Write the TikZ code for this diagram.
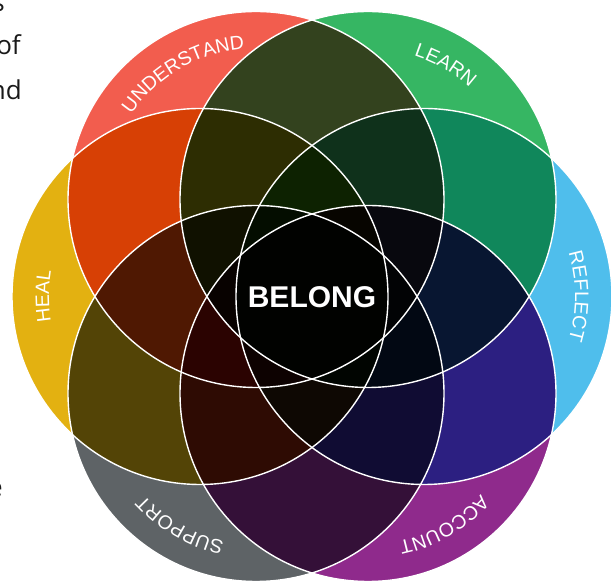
\documentclass[tikz,border=0pt]{standalone}
\usepackage{fontspec}
\setmainfont{Liberation Sans}
\newfontfamily\fragfont{Open Sans}
\usepackage{xcolor}
\usetikzlibrary{decorations.text}

\definecolor{understandred}{HTML}{F25D4E}
\definecolor{learngreen}{HTML}{36B663}
\definecolor{reflectblue}{HTML}{4FBEEC}
\definecolor{accountpurple}{HTML}{8F2A8C}
\definecolor{supportgray}{HTML}{5E6366}
\definecolor{healyellow}{HTML}{E3B111}
\definecolor{fragtext}{HTML}{1A1A1A}

\newcommand{\ringfont}{\color{white}\fontsize{19.5}{19.5}\selectfont}

\tikzset{
  petal/.style={fill=#1, blend mode=multiply},
  ring/.style={draw=white, line width=1.4pt},
  petallabel/.style={decorate, decoration={text along path, text align=center, text={|\ringfont|#1}}},
  fragment/.style={anchor=base east, text=fragtext, font=\fragfont\fontsize{26}{26}\selectfont, inner sep=0pt}
}

\begin{document}
\begin{tikzpicture}[x=1pt, y=1pt]
    \useasboundingbox (0,0) rectangle (611,581);
    % Centres of the six circles
    \coordinate (c) at (312,284.5);
    \coordinate (understand) at (256,381.5);
    \coordinate (learn) at (368,381.5);
    \coordinate (reflect) at (424,284.5);
    \coordinate (account) at (368,187.5);
    \coordinate (support) at (256,187.5);
    \coordinate (heal) at (200,284.5);
    % Filled circles, multiplied
    \fill[petal=understandred] (understand) circle[radius=188];
    \fill[petal=learngreen] (learn) circle[radius=188];
    \fill[petal=reflectblue] (reflect) circle[radius=188];
    \fill[petal=accountpurple] (account) circle[radius=188];
    \fill[petal=supportgray] (support) circle[radius=188];
    \fill[petal=healyellow] (heal) circle[radius=188];
    % White outlines
    \draw[ring] (understand) circle[radius=188];
    \draw[ring] (learn) circle[radius=188];
    \draw[ring] (reflect) circle[radius=188];
    \draw[ring] (account) circle[radius=188];
    \draw[ring] (support) circle[radius=188];
    \draw[ring] (heal) circle[radius=188];
    % Curved labels
    \path[petallabel=UNDERSTAND] (understand) ++(165:151) arc[start angle=165, end angle=75, radius=151];
    \path[petallabel=LEARN] (learn) ++(105:151) arc[start angle=105, end angle=15, radius=151];
    \path[petallabel=REFLECT] (reflect) ++(45:151) arc[start angle=45, end angle=-45, radius=151];
    \path[petallabel=ACCOUNT] (account) ++(-15:151) arc[start angle=-15, end angle=-105, radius=151];
    \path[petallabel=SUPPORT] (support) ++(285:151) arc[start angle=285, end angle=195, radius=151];
    \path[petallabel=HEAL] (heal) ++(225:151) arc[start angle=225, end angle=135, radius=151];
    % Centre label
    \node[text=white, font=\bfseries\fontsize{30}{30}\selectfont] (belong) at (312,283.5) {BELONG};
    % Cut-off text at the left edge
    \node[fragment] (frag1) at (5,569) {s};
    \node[fragment] (frag2) at (21,526) {of};
    \node[fragment] (frag3) at (22,481) {nd};
    \node[fragment] (frag4) at (3,84) {e};
\end{tikzpicture}
\end{document}
